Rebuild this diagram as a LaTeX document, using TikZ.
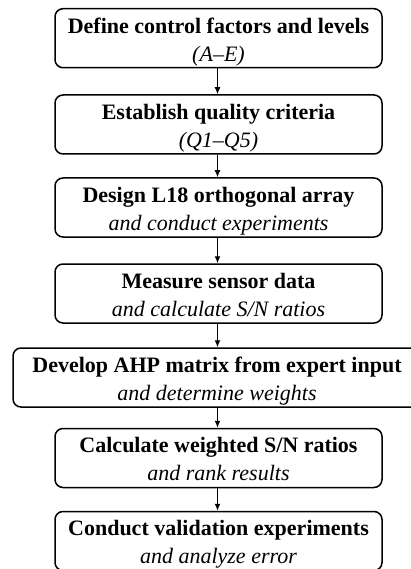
\documentclass[tikz,border=0pt]{standalone}
\usepackage{fontspec}
\setmainfont{Liberation Serif}
\usetikzlibrary{arrows.meta}
\newcommand{\steptext}[2]{\raisebox{-8.4pt}[0pt][0pt]{\begin{tabular}{@{}c@{}}\textbf{#1}\\\textit{#2}\end{tabular}}}
\begin{document}
\begin{tikzpicture}[x=1pt,y=-1pt,
  stepbox/.style={draw=black,line width=1.5pt,rounded corners=8pt,
    minimum width=327pt,minimum height=59pt,align=center,inner sep=0pt,
    font=\fontsize{22}{28}\selectfont},
  widebox/.style={stepbox,minimum width=408pt},
  conn/.style={line width=1.2pt,-{Latex[length=7pt,width=6pt]}}]
\useasboundingbox (0,0) rectangle (411,569);
\clip (0,0) rectangle (411,569);
\node[stepbox] (b1) at (218.5,38.2) {\steptext{Define control factors and levels}{(A–E)}};
\node[stepbox] (b2) at (218.5,124.5) {\steptext{Establish quality criteria}{(Q1–Q5)}};
\node[stepbox] (b3) at (218.5,207.5) {\steptext{Design L18 orthogonal array}{and conduct experiments}};
\node[stepbox] (b4) at (218.5,293.5) {\steptext{Measure sensor data}{and calculate S/N ratios}};
\node[widebox] (b5) at (217,377.5) {\steptext{Develop AHP matrix from expert input}{and determine weights}};
\node[stepbox] (b6) at (218.5,458) {\steptext{Calculate weighted S/N ratios}{and rank results}};
\node[stepbox] (b7) at (218.5,541) {\steptext{Conduct validation experiments}{and analyze error}};
\draw[conn] (b1.south -| 217.5,0) -- (b2.north -| 217.5,0);
\draw[conn] (b2.south -| 217.5,0) -- (b3.north -| 217.5,0);
\draw[conn] (b3.south -| 217.5,0) -- (b4.north -| 217.5,0);
\draw[conn] (b4.south -| 217.5,0) -- (b5.north -| 217.5,0);
\draw[conn] (b5.south -| 217.5,0) -- (b6.north -| 217.5,0);
\draw[conn] (b6.south -| 217.5,0) -- (b7.north -| 217.5,0);
\end{tikzpicture}
\end{document}
